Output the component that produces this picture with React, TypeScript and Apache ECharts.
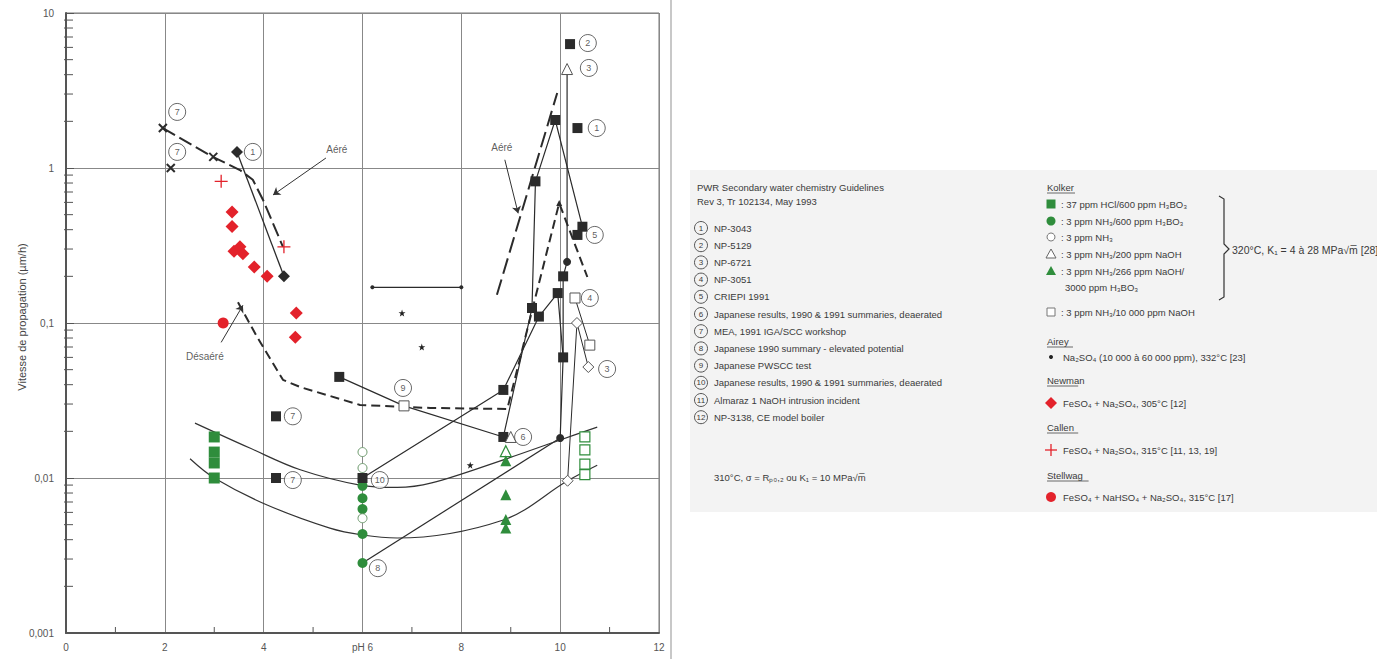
import React, { useEffect, useRef } from 'react';
import * as echarts from 'echarts';

const FONT = '"Liberation Sans", Arial, Helvetica, sans-serif';
const GREEN = '#2f8d3c';
const RED = '#e3222b';
const BLACK = '#2b2b2b';
const GREY = '#555';

// ---- axes ----
const xTickValues = [0, 2, 4, 6, 8, 10, 12];
const xTickLabels = ['0', '2', '4', 'pH 6', '8', '10', '12'];
const yTickLabels = ['0,001', '0,01', '0,1', '1', '10'];
const xMinorTicks = [1, 3, 5, 7, 9, 11];
const yMinorMultipliers = [2, 3, 4, 5, 6, 7, 8, 9];
const yDecades = [0.001, 0.01, 0.1, 1];

// ---- marker data (pH, µm/h) ----
const blackX = [[1.96, 1.81], [2.12, 1.0], [2.98, 1.18]];
const blackDiamonds = [[3.46, 1.27], [4.41, 0.2]];
const callenPlus = [[3.14, 0.82], [4.41, 0.31]];
const newmanDiamonds = [[3.36, 0.52], [3.36, 0.42], [3.4, 0.29], [3.52, 0.31], [3.58, 0.28], [3.81, 0.23], [4.07, 0.2], [4.66, 0.116], [4.64, 0.081]];
const stellwagCircles = [[3.18, 0.1]];
const kolkerHCl = [[3.0, 0.0184], [3.0, 0.0147], [3.0, 0.0125], [3.0, 0.01]];
const kolkerNH3Boric = [[6.0, 0.0089], [6.0, 0.0074], [6.0, 0.0063], [6.0, 0.00435], [6.0, 0.00283]];
const kolkerNH3 = [[6.0, 0.0147], [6.0, 0.0116], [6.0, 0.0055]];
const kolkerNaOH200 = [[8.9, 0.0149]];
const kolkerNaOH266 = [[8.9, 0.0129], [8.9, 0.0078], [8.9, 0.0054], [8.9, 0.00475]];
const kolkerNaOH10000 = [[10.5, 0.0184], [10.5, 0.0152], [10.5, 0.0123], [10.5, 0.0105]];
const aireyStars = [[6.8, 0.116], [7.2, 0.07], [8.18, 0.0121]];
const blackSquares = [[4.25, 0.025], [4.25, 0.01], [5.53, 0.0449], [6.0, 0.01], [8.85, 0.0184], [8.85, 0.037], [9.43, 0.125], [9.57, 0.11], [9.5, 0.82], [9.9, 2.04], [10.2, 6.3], [10.35, 1.81], [10.45, 0.418], [10.35, 0.37], [10.06, 0.2], [9.95, 0.156], [10.06, 0.06]];
const blackDots = [[10.14, 0.248], [10.0, 0.0181]];
const openBlackTriangles = [[10.14, 4.35], [9.0, 0.0184]];
const openBlackSquares = [[10.3, 0.145], [10.6, 0.072], [6.84, 0.0292]];
const openBlackDiamonds = [[10.34, 0.1], [10.57, 0.052], [10.15, 0.0096]];
const smallTriangle = [[9.98, 0.594]];
const rangeBar = [[6.2, 0.17], [8.0, 0.17]];

// ---- lines ----
const aereAcid = [[1.96, 1.81], [2.97, 1.18], [3.52, 0.97], [3.78, 0.84], [3.99, 0.62], [4.39, 0.31]];
const aereAlkaline = [[8.72, 0.152], [9.94, 3.05]];
const desaere = [[3.48, 0.136], [3.87, 0.081], [4.39, 0.043], [4.74, 0.0386], [5.95, 0.0296], [7.37, 0.0283], [8.93, 0.0279], [9.98, 0.594], [10.55, 0.198]];
const line1Acid = [[3.46, 1.27], [4.41, 0.2]];
const lineA = [[8.85, 0.0184], [9.43, 0.125], [9.5, 0.82], [9.9, 2.04], [10.45, 0.418]];
const lineB = [[6.0, 0.01], [8.85, 0.037], [9.57, 0.11], [9.95, 0.156], [10.06, 0.06], [10.0, 0.0181]];
const lineC = [[10.14, 4.35], [10.14, 0.248], [10.06, 0.2], [10.06, 0.06]];
const line8 = [[6.0, 0.00283], [10.0, 0.0181]];
const line9 = [[5.53, 0.0449], [6.84, 0.0292], [8.85, 0.0184]];
const lineD = [[10.3, 0.145], [10.6, 0.072]];
const lineE = [[10.15, 0.0096], [10.34, 0.1], [10.57, 0.052]];
const curveUpper = [[2.61, 0.0226], [3.72, 0.0156], [4.74, 0.0113], [5.95, 0.009], [6.7, 0.0087], [7.4, 0.0093], [8.85, 0.0131], [10.0, 0.0176], [10.75, 0.0213]];
const curveLower = [[2.51, 0.0133], [3.0, 0.01], [4.07, 0.0067], [5.34, 0.00475], [6.0, 0.00429], [6.7, 0.0041], [8.85, 0.00536], [10.15, 0.0096], [10.75, 0.0121]];

// ---- annotations ----
const circledLabels: [number, number, string][] = [
  [2.25, 2.3, '7'], [2.25, 1.27, '7'], [3.78, 1.27, '1'], [10.56, 6.4, '2'], [10.58, 4.42, '3'],
  [10.74, 1.81, '1'], [10.7, 0.37, '5'], [10.6, 0.145, '4'], [10.95, 0.0505, '3'], [9.25, 0.0184, '6'],
  [6.82, 0.0381, '9'], [6.35, 0.0097, '10'], [6.31, 0.00262, '8'], [4.59, 0.025, '7'], [4.59, 0.0097, '7'],
];
const textLabels: [number, number, string][] = [[5.48, 1.31, 'Aéré'], [8.82, 1.35, 'Aéré'], [2.81, 0.061, 'Désaéré']];
const arrows: [number, number, number, number][] = [[5.26, 1.16, 4.19, 0.67], [8.88, 1.13, 9.15, 0.51], [3.14, 0.075, 3.58, 0.13]];

// ---- legend texts ----
const guideTitle = ['PWR Secondary water chemistry Guidelines', 'Rev 3, Tr 102134, May 1993'];
const refNames = ['NP-3043', 'NP-5129', 'NP-6721', 'NP-3051', 'CRIEPI 1991', 'Japanese results, 1990 & 1991 summaries, deaerated', 'MEA, 1991 IGA/SCC workshop', 'Japanese 1990 summary - elevated potential', 'Japanese PWSCC test', 'Japanese results, 1990 & 1991 summaries, deaerated', 'Almaraz 1 NaOH intrusion incident', 'NP-3138, CE model boiler'];
const conditionNote = '310°C, σ = Rₚ₀,₂ ou K₁ = 10 MPa√m̅';
const kolkerItems: [string, string][] = [
  ['fsq', ': 37 ppm HCl/600 ppm H₃BO₃'], ['fci', ': 3 ppm NH₃/600 ppm H₃BO₃'], ['oci', ': 3 ppm NH₃'],
  ['otr', ': 3 ppm NH₃/200 ppm NaOH'], ['ftr', ': 3 ppm NH₃/266 ppm NaOH/'], ['', '3000 ppm H₃BO₃'], ['osq', ': 3 ppm NH₃/10 000 ppm NaOH'],
];
const kolkerNote = '320°C, K₁ = 4 à 28 MPa√m̅ [28]';
const otherGroups: [string, string, string][] = [
  ['Airey', 'dot', 'Na₂SO₄ (10 000 à 60 000 ppm), 332°C [23]'],
  ['Newman', 'dia', 'FeSO₄ + Na₂SO₄, 305°C [12]'],
  ['Callen', 'plus', 'FeSO₄ + Na₂SO₄, 315°C [11, 13, 19]'],
  ['Stellwag', 'rci', 'FeSO₄ + NaHSO₄ + Na₂SO₄, 315°C [17]'],
];

const STAR = 'path://M5,0L6.2,3.6L10,3.6L7,5.9L8.1,9.5L5,7.3L1.9,9.5L3,5.9L0,3.6L3.8,3.6Z';
const XMARK = 'path://M0,0L10,10M10,0L0,10';
const PLUS = 'path://M5,0L5,10M0,5L10,5';

function scatter(data: number[][], symbol: string, size: number, fill: string, border?: string, bw = 1, z = 5) {
  return {
    type: 'scatter', data, symbol, symbolSize: size, z, silent: true,
    itemStyle: { color: fill, borderColor: border || fill, borderWidth: border ? bw : 0, opacity: 1 },
  };
}
function line(data: number[][], color: string, width: number, type: any = 'solid', smooth: any = false) {
  return {
    type: 'line', data, symbol: 'none', showSymbol: false, smooth, z: 3, silent: true,
    lineStyle: { color, width, type },
  };
}

function buildLegend(): any[] {
  const g: any[] = [];
  const txt = (x: number, y: number, t: string, extra: any = {}) => ({
    type: 'text', x, y, style: { text: t, fill: '#3a3a3a', font: `9.5px ${FONT}`, textVerticalAlign: 'middle', ...extra },
  });
  g.push({ type: 'rect', shape: { x: 690, y: 170, width: 687, height: 342 }, style: { fill: '#f3f3f3' } });
  g.push({ type: 'line', shape: { x1: 671, y1: 0, x2: 671, y2: 659 }, style: { stroke: '#c8c8c8', lineWidth: 2 } });
  g.push(txt(697, 187, guideTitle[0]));
  g.push(txt(697, 201, guideTitle[1]));
  refNames.forEach((n, i) => {
    const y = 228 + i * 17.2;
    g.push({ type: 'circle', shape: { cx: 701, cy: y, r: 6.5 }, style: { fill: 'none', stroke: '#555', lineWidth: 1 } });
    g.push(txt(701, y, String(i + 1), { textAlign: 'center', font: `8px ${FONT}` }));
    g.push(txt(714, y, n));
  });
  g.push(txt(714, 477, conditionNote));
  // right column
  const head = (y: number, t: string, w: number) => {
    g.push(txt(1047, y, t));
    g.push({ type: 'line', shape: { x1: 1047, y1: y + 6, x2: 1047 + w, y2: y + 6 }, style: { stroke: '#444', lineWidth: 0.8 } });
  };
  head(187, 'Kolker', 28);
  const ky = [204, 221, 237, 254, 271, 287, 312];
  kolkerItems.forEach(([m, t], i) => {
    const y = ky[i];
    const x = 1051;
    if (m === 'fsq') g.push({ type: 'rect', shape: { x: x - 4.5, y: y - 4.5, width: 9, height: 9 }, style: { fill: GREEN } });
    if (m === 'fci') g.push({ type: 'circle', shape: { cx: x, cy: y, r: 4.5 }, style: { fill: GREEN } });
    if (m === 'oci') g.push({ type: 'circle', shape: { cx: x, cy: y, r: 4 }, style: { fill: '#fff', stroke: '#777', lineWidth: 1 } });
    if (m === 'otr') g.push({ type: 'polygon', shape: { points: [[x, y - 5], [x + 5, y + 4], [x - 5, y + 4]] }, style: { fill: '#fff', stroke: '#666', lineWidth: 1 } });
    if (m === 'ftr') g.push({ type: 'polygon', shape: { points: [[x, y - 5], [x + 5, y + 4], [x - 5, y + 4]] }, style: { fill: GREEN } });
    if (m === 'osq') g.push({ type: 'rect', shape: { x: x - 4, y: y - 4, width: 8, height: 8 }, style: { fill: '#fff', stroke: '#777', lineWidth: 1 } });
    g.push(txt(m ? 1061 : 1065, y, t));
  });
  g.push({ type: 'polyline', shape: { points: [[1219, 196], [1224, 199], [1224, 244], [1229, 249], [1224, 254], [1224, 297], [1219, 300]] }, style: { stroke: '#333', lineWidth: 1.2, fill: 'none' } });
  g.push(txt(1232, 250, kolkerNote, { font: `10.5px ${FONT}` }));
  const gy = [341, 380, 427, 475];
  const gOff = [16, 23, 23, 22];
  otherGroups.forEach(([h, m, t], i) => {
    const y = gy[i];
    head(y, h, h.length * 5.2);
    const my = y + gOff[i];
    const x = 1051;
    if (m === 'dot') g.push({ type: 'circle', shape: { cx: x, cy: my, r: 2 }, style: { fill: '#222' } });
    if (m === 'dia') g.push({ type: 'polygon', shape: { points: [[x, my - 6], [x + 6, my], [x, my + 6], [x - 6, my]] }, style: { fill: RED } });
    if (m === 'plus') g.push({ type: 'polyline', shape: { points: [[x - 6, my], [x + 6, my]] }, style: { stroke: RED, lineWidth: 1.3 } }, { type: 'polyline', shape: { points: [[x, my - 6], [x, my + 6]] }, style: { stroke: RED, lineWidth: 1.3 } });
    if (m === 'rci') g.push({ type: 'circle', shape: { cx: x, cy: my, r: 5 }, style: { fill: RED } });
    g.push(txt(1063, my, t));
  });
  return g;
}

export default function App() {
  const ref = useRef<HTMLDivElement>(null);
  useEffect(() => {
    if (!ref.current) return;
    const chart = echarts.init(ref.current, null, { renderer: 'svg' });
    const minorTickData: number[][] = [];
    yDecades.forEach((d) => yMinorMultipliers.forEach((m) => minorTickData.push([0, m * d, 0])));
    xMinorTicks.forEach((x) => minorTickData.push([x, 0.001, 1]));

    const series: any[] = [
      {
        type: 'custom', data: minorTickData, silent: true, z: 2,
        renderItem: (params: any, api: any) => {
          const kind = api.value(2);
          const p = api.coord([api.value(0), api.value(1)]);
          if (kind === 0) return { type: 'line', shape: { x1: p[0] - 2, y1: p[1], x2: p[0] + 7, y2: p[1] }, style: { stroke: GREY, lineWidth: 1 } };
          return { type: 'line', shape: { x1: p[0], y1: p[1], x2: p[0], y2: p[1] - 6 }, style: { stroke: GREY, lineWidth: 1 } };
        },
      },
      line(aereAcid, BLACK, 2, [14, 5]),
      line(aereAlkaline, BLACK, 2, [16, 6]),
      line(desaere, BLACK, 2, [9, 5]),
      line(line1Acid, BLACK, 1.3),
      line(lineA, BLACK, 1.2),
      line(lineB, BLACK, 1.2),
      line(lineC, BLACK, 1.2),
      line(line8, BLACK, 1.2),
      line(line9, BLACK, 1.2),
      line(lineD, BLACK, 1),
      line(lineE, BLACK, 1),
      line(curveUpper, '#333', 1.2, 'solid', 0.35),
      line(curveLower, '#333', 1.2, 'solid', 0.35),
      { ...line(rangeBar, BLACK, 1.2), symbol: 'circle', showSymbol: true, symbolSize: 4, itemStyle: { color: BLACK } },
      {
        type: 'line', data: [], silent: true,
        markLine: {
          silent: true, symbol: ['none', 'arrow'], symbolSize: 7, animation: false,
          lineStyle: { color: '#333', width: 1, type: 'solid' }, label: { show: false },
          data: arrows.map(([a, b, c, d]) => [{ coord: [a, b] }, { coord: [c, d] }]),
        },
      },
      scatter(blackX, XMARK, 8, 'none', BLACK, 2),
      scatter(blackDiamonds, 'diamond', 12, BLACK),
      scatter(callenPlus, PLUS, 13, 'none', RED, 1.3),
      scatter(newmanDiamonds, 'diamond', 13, RED),
      scatter(stellwagCircles, 'circle', 11, RED),
      scatter(kolkerHCl, 'rect', 11, GREEN),
      scatter(kolkerNH3Boric, 'circle', 10, GREEN),
      scatter(kolkerNH3, 'circle', 9, '#fff', '#6d9a6d', 1),
      scatter(kolkerNaOH200, 'triangle', 11, '#fff', GREEN, 1.2),
      scatter(kolkerNaOH266, 'triangle', 11, GREEN),
      scatter(kolkerNaOH10000, 'rect', 10, '#fff', GREEN, 1.2),
      scatter(aireyStars, STAR, 7, '#222'),
      scatter(blackSquares, 'rect', 10, BLACK),
      scatter(blackDots, 'circle', 8, BLACK),
      scatter(openBlackTriangles, 'triangle', 11, '#fff', '#555', 1),
      scatter(openBlackSquares, 'rect', 10, '#fff', '#555', 1),
      scatter(openBlackDiamonds, 'diamond', 11, '#fff', '#555', 1),
      scatter(smallTriangle, 'triangle', 6, BLACK),
      {
        type: 'scatter', silent: true, z: 6, symbol: 'circle', symbolSize: 17,
        itemStyle: { color: '#fff', borderColor: '#444', borderWidth: 1 },
        label: { show: true, position: 'inside', formatter: (p: any) => p.name, color: '#333', fontSize: 9, fontFamily: FONT },
        data: circledLabels.map(([x, y, n]) => ({ name: n, value: [x, y] })),
      },
      {
        type: 'scatter', silent: true, z: 6, symbolSize: 0,
        label: { show: true, position: 'inside', formatter: (p: any) => p.name, color: '#333', fontSize: 10, fontFamily: FONT },
        data: textLabels.map(([x, y, n]) => ({ name: n, value: [x, y] })),
      },
    ];

    chart.setOption({
      animation: false,
      backgroundColor: '#fff',
      grid: { left: 66, top: 13, width: 593, height: 620, show: true, borderColor: '#777', borderWidth: 1 },
      xAxis: {
        type: 'value', min: 0, max: 12, interval: 2,
        axisLine: { show: true, lineStyle: { color: GREY, width: 2 } },
        axisTick: { show: false },
        splitLine: { show: true, lineStyle: { color: '#888', width: 1 } },
        axisLabel: {
          color: GREY, fontSize: 10, fontFamily: FONT, margin: 9,
          formatter: (v: number) => { const i = xTickValues.indexOf(Math.round(v)); return i >= 0 ? xTickLabels[i] : ''; },
        },
      },
      yAxis: {
        type: 'log', logBase: 10, min: 0.001, max: 10,
        axisLine: { show: true, lineStyle: { color: GREY, width: 2 } },
        axisTick: { show: true, inside: true, length: 8, lineStyle: { color: GREY } },
        splitLine: { show: true, lineStyle: { color: '#888', width: 1 } },
        axisLabel: {
          color: GREY, fontSize: 10, fontFamily: FONT, margin: 12,
          formatter: (v: number) => { const i = Math.round(Math.log10(v)) + 3; return yTickLabels[i] ?? ''; },
        },
      },
      graphic: [
        ...buildLegend(),
        {
          type: 'text', x: 22, y: 317, rotation: Math.PI / 2,
          style: { text: 'Vitesse de propagation (µm/h)', fill: '#444', font: `11px ${FONT}`, textAlign: 'center', textVerticalAlign: 'middle' },
        },
      ],
      series,
    });
    return () => chart.dispose();
  }, []);
  return <div ref={ref} style={{ position: 'absolute', left: 0, top: 0, width: 1377, height: 659 }} />;
}
